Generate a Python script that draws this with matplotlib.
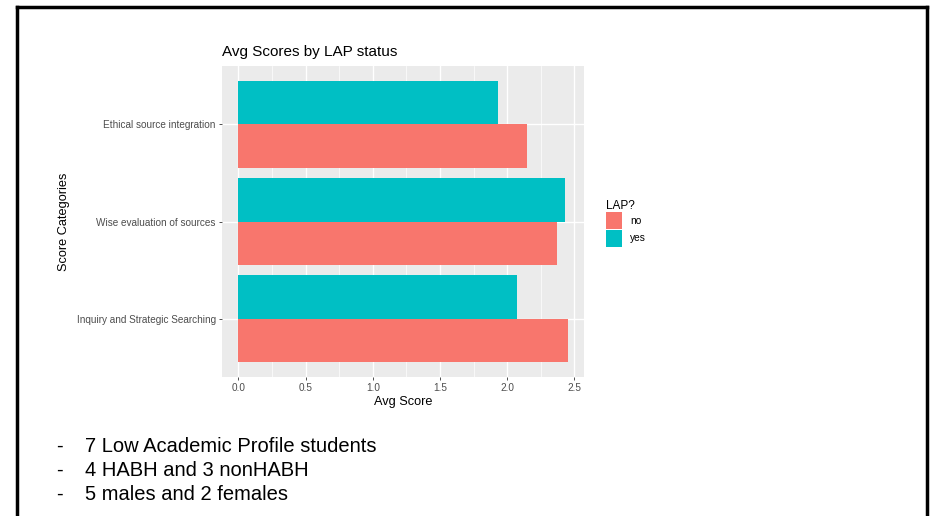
import matplotlib
matplotlib.use('Agg')
import matplotlib.pyplot as plt
from matplotlib.patches import Patch
from matplotlib.ticker import MultipleLocator

plt.rcParams['font.family'] = ['Liberation Sans', 'DejaVu Sans']

# data
categories = ["Inquiry and Strategic Searching", "Wise evaluation of sources", "Ethical source integration"]
score_no = [2.45, 2.37, 2.15]
score_yes = [2.07, 2.43, 1.93]
bullets = ["7 Low Academic Profile students", "4 HABH and 3 nonHABH", "5 males and 2 females"]

col_no = '#F8766D'
col_yes = '#00BFC4'
txt = '#4D4D4D'

W, H = 932, 516
fig = plt.figure(figsize=(W / 100, H / 100), dpi=100)
fig.patch.set_facecolor('white')

# slide frame (open at the bottom)
fig.add_artist(plt.Line2D([17 / W, 17 / W], [0, 1 - 7 / H], transform=fig.transFigure, color='black', lw=2.5))
fig.add_artist(plt.Line2D([17 / W, 927 / W], [1 - 7 / H, 1 - 7 / H], transform=fig.transFigure, color='black', lw=2.5))
fig.add_artist(plt.Line2D([927 / W, 927 / W], [0, 1 - 7 / H], transform=fig.transFigure, color='black', lw=2.5))

ax = fig.add_axes([222 / W, (H - 377) / H, (584 - 222) / W, (377 - 66) / H])
ax.set_facecolor('#EBEBEB')
for s in ax.spines.values():
    s.set_visible(False)

ax.xaxis.set_major_locator(MultipleLocator(0.5))
ax.xaxis.set_minor_locator(MultipleLocator(0.25))
ax.grid(which='major', color='white', lw=1.0)
ax.grid(which='minor', axis='x', color='white', lw=0.5)
ax.set_axisbelow(True)

ypos = list(range(1, len(categories) + 1))
bw = 0.45
ax.barh([y - bw / 2 for y in ypos], score_no, height=bw, color=col_no, label='no')
ax.barh([y + bw / 2 for y in ypos], score_yes, height=bw, color=col_yes, label='yes')

top = max(score_no + score_yes)
ax.set_xlim(-0.05 * top, top * 1.05)
ax.set_ylim(0.4, len(categories) + 0.6)
ax.set_yticks(ypos)
ax.set_yticklabels(categories)
ax.set_xticks([0, 0.5, 1.0, 1.5, 2.0, 2.5])
ax.set_xticklabels(['0.0', '0.5', '1.0', '1.5', '2.0', '2.5'])
ax.tick_params(axis='both', which='major', labelsize=7.2, colors='#333333', labelcolor=txt, length=2.5, width=0.6, pad=2)
ax.tick_params(axis='x', which='minor', length=0)

ax.set_xlabel('Avg Score', fontsize=9.2, color='black', labelpad=2)
ax.set_ylabel('Score Categories', fontsize=9.2, color='black')
ax.yaxis.set_label_coords((70 - 222) / 362, 0.5)
ax.set_title('Avg Scores by LAP status', fontsize=11, loc='left', pad=7)

handles = [Patch(facecolor=col_no, label='no'), Patch(facecolor=col_yes, label='yes')]
leg = ax.legend(handles=handles, title='LAP?', loc='center left', bbox_to_anchor=(1.047, 0.495),
                frameon=False, fontsize=7.3, title_fontsize=8.5, handlelength=1.6, handleheight=2.2,
                handletextpad=0.8, labelspacing=0.05, borderpad=0)
leg._legend_box.align = 'left'

for i, b in enumerate(bullets):
    yy = 1 - (446 + i * 24) / H
    fig.text(56 / W, yy, '-', fontsize=14.5, va='center', ha='left')
    fig.text(85 / W, yy, b, fontsize=14.5, va='center', ha='left')

fig.savefig('out.png', dpi=100)
